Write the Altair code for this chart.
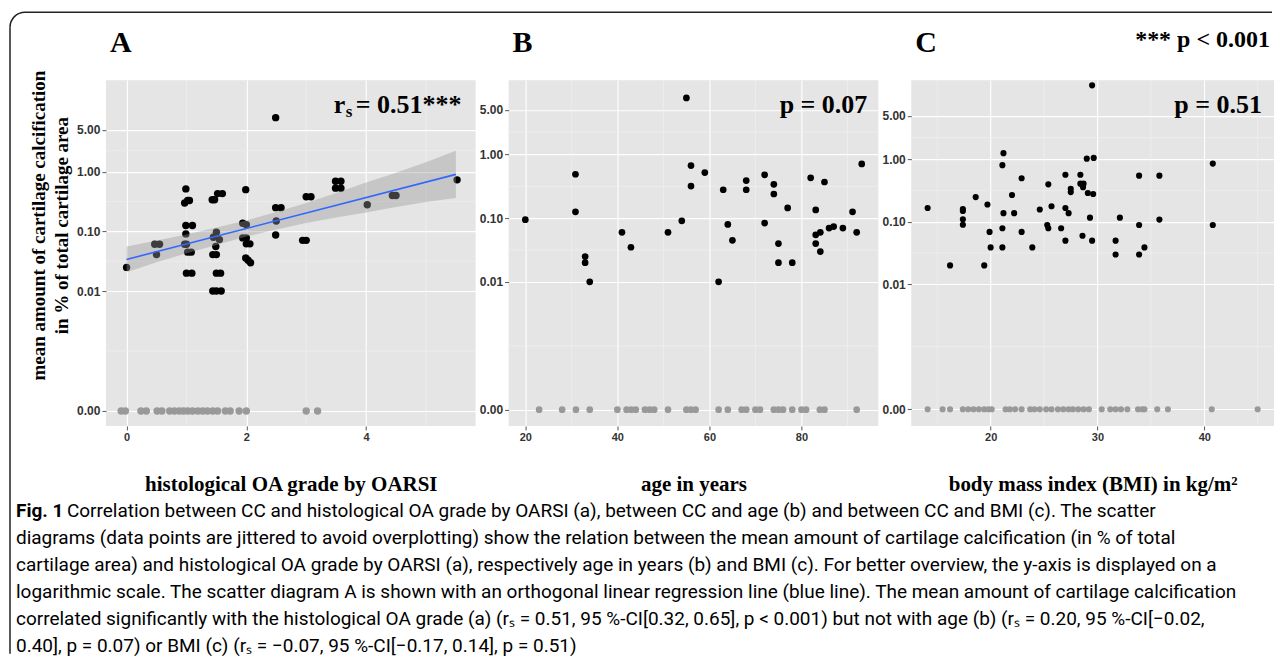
import altair as alt
import pandas as pd

# ---------------- data ----------------
Y_TICKS = [0, 0.01, 0.1, 1, 5]
Y_MINOR = [0.0009, 0.0317, 0.316, 2.24]

# Panel A: histological OA grade (OARSI)
A_X = [0.0, 0.47, 0.55, 0.50, 0.99, 0.97, 1.02, 1.05, 0.99, 1.10, 0.99, 0.97, 1.00,
       1.02, 1.08, 1.00, 1.09, 1.43, 1.47, 1.52, 1.60, 1.50, 1.45, 1.55, 1.49, 1.44,
       1.50, 1.50, 1.57, 1.44, 1.50, 1.58, 1.99, 1.94, 2.00, 1.94, 2.00, 2.00, 2.06,
       1.99, 2.03, 2.07, 2.49, 2.49, 2.58, 2.50, 2.49, 2.94, 3.00, 3.00, 3.08, 3.49,
       3.58, 3.49, 3.58, 4.02, 4.44, 4.50, 5.52]
A_Y = [0.025, 0.061, 0.061, 0.041, 0.515, 0.30, 0.33, 0.33, 0.126, 0.126, 0.091, 0.061,
       0.061, 0.045, 0.045, 0.020, 0.020, 0.34, 0.34, 0.43, 0.43, 0.097, 0.080, 0.073,
       0.056, 0.041, 0.041, 0.020, 0.020, 0.010, 0.010, 0.010, 0.50, 0.137, 0.130, 0.078,
       0.078, 0.062, 0.062, 0.036, 0.033, 0.030, 8.0, 0.25, 0.25, 0.15, 0.087, 0.071,
       0.071, 0.38, 0.38, 0.69, 0.69, 0.53, 0.53, 0.28, 0.40, 0.40, 0.73]
A_ZERO_X = [-0.09, -0.02, 0.24, 0.33, 0.51, 0.59, 0.72, 0.80, 0.88, 0.95, 1.02, 1.10,
            1.19, 1.27, 1.35, 1.44, 1.52, 1.65, 1.73, 1.88, 2.00, 3.00, 3.19]
FIT_X = [0.0, 5.5]
FIT_Y = [0.034, 0.90]
BAND_X = [0, 0.5, 1, 1.5, 2, 2.5, 3, 3.5, 4, 4.5, 5, 5.5]
BAND_LO = [0.0207, 0.0304, 0.043, 0.0596, 0.0825, 0.108, 0.1386, 0.1711, 0.2073, 0.256, 0.31, 0.3617]
BAND_HI = [0.0562, 0.0708, 0.0891, 0.1166, 0.1526, 0.2113, 0.2985, 0.4384, 0.6557, 0.9623, 1.44, 2.24]

# Panel B: age in years
B_X = [20, 30.9, 30.9, 33.0, 33.0, 34.0, 41.0, 42.95, 51.0, 54.0, 55.0, 56.0, 56.0, 59.0,
       62.0, 63.0, 64.0, 65.0, 68.0, 68.0, 72.0, 72.0, 74.0, 74.0, 75.0, 75.0, 77.0, 78.0,
       82.0, 83.1, 83.1, 83.1, 84.1, 84.1, 85.0, 86.0, 87.0, 89.0, 91.1, 92.0, 93.1]
B_Y = [0.095, 0.49, 0.126, 0.025, 0.020, 0.010, 0.060, 0.035, 0.060, 0.091, 7.7, 0.67,
       0.32, 0.52, 0.010, 0.28, 0.080, 0.045, 0.39, 0.28, 0.48, 0.084, 0.34, 0.24, 0.040,
       0.020, 0.145, 0.020, 0.43, 0.135, 0.055, 0.040, 0.060, 0.030, 0.37, 0.070, 0.074,
       0.070, 0.126, 0.060, 0.71]
B_ZERO_X = [23, 28, 31, 34, 40, 42, 43, 44, 46, 47, 48, 51, 55, 56, 57, 62, 64, 67, 68,
            70, 71, 74, 75, 76, 78, 80, 81, 84, 85, 92]

# Panel C: BMI
C_X = [14.1, 16.2, 17.4, 17.4, 17.4, 17.4, 18.6, 19.7, 19.4, 19.9, 20.0, 21.2, 21.1, 21.2,
       21.1, 21.1, 22.0, 22.2, 22.9, 22.9, 23.9, 24.6, 25.4, 25.3, 25.4, 25.7, 26.6, 27.0,
       27.0, 27.3, 27.0, 27.5, 27.5, 28.4, 28.4, 28.7, 28.65, 28.6, 29.0, 29.65, 29.1, 29.6,
       29.3, 29.5, 29.5, 31.7, 31.7, 32.1, 33.9, 33.9, 33.9, 34.4, 35.8, 35.8, 40.8, 40.8]
C_Y = [0.167, 0.020, 0.16, 0.15, 0.11, 0.09, 0.25, 0.19, 0.020, 0.069, 0.039, 1.26, 0.81,
       0.138, 0.079, 0.039, 0.27, 0.138, 0.50, 0.069, 0.039, 0.158, 0.40, 0.089, 0.079,
       0.178, 0.079, 0.57, 0.167, 0.138, 0.050, 0.34, 0.30, 0.57, 0.41, 0.41, 0.36, 0.060,
       1.03, 1.06, 0.29, 0.28, 0.117, 0.050, 15.4, 0.050, 0.030, 0.117, 0.55, 0.089, 0.030,
       0.039, 0.55, 0.109, 0.86, 0.089]
C_ZERO_X = [14.1, 15.5, 16.2, 17.4, 17.9, 18.4, 18.9, 19.4, 19.8, 20.1, 21.4, 21.8, 22.3,
            22.9, 23.7, 24.1, 24.6, 25.2, 25.7, 26.3, 26.8, 27.3, 27.7, 28.2, 28.7, 29.2,
            30.4, 31.2, 31.7, 32.2, 32.8, 33.8, 34.2, 34.4, 35.6, 36.6, 40.7, 45.0]

Y_TITLE = ["mean amount of cartilage calcification", "in % of total cartilage area"]
CAPTION_REST1 = ("Correlation between CC and histological OA grade by OARSI (a), between CC "
                 "and age (b) and between CC and BMI (c). The scatter")
CAPTION = [
    "diagrams (data points are jittered to avoid overplotting) show the relation between the mean amount of cartilage calcification (in % of total",
    "cartilage area) and histological OA grade by OARSI (a), respectively age in years (b) and BMI (c). For better overview, the y-axis is displayed on a",
    "logarithmic scale. The scatter diagram A is shown with an orthogonal linear regression line (blue line). The mean amount of cartilage calcification",
    "correlated significantly with the histological OA grade (a) (r\u209b = 0.51, 95 %-CI[0.32, 0.65], p < 0.001) but not with age (b) (r\u209b = 0.20, 95 %-CI[\u22120.02,",
    "0.40], p = 0.07) or BMI (c) (r\u209b = \u22120.07, 95 %-CI[\u22120.17, 0.14], p = 0.51)",
]

# ---------------- helpers ----------------
SERIF = "Liberation Serif"
SANS = "Liberation Sans"
CAPFONT = "Roboto"
ONE = pd.DataFrame({"k": [0]})
H = 346

AX = dict(labelFont=SANS, labelFontWeight="bold", labelColor="#333333",
          tickColor="#555555", tickSize=4, tickWidth=1, domain=False, grid=True,
          gridColor="white", gridWidth=1.1, labelPadding=2, labelFlush=False,
          titleFont=SERIF, titleFontWeight="bold", titleColor="black")


def txt(s, x, y, size, align="left", font=SERIF, weight="bold"):
    return alt.Chart(ONE).mark_text(text=s, font=font, fontSize=size, fontWeight=weight,
                                    align=align, baseline="alphabetic", color="black"
                                    ).encode(x=alt.value(x), y=alt.value(y))


def panel(px, py, zx, xdom, ydom, xt, xm, w, size, xtitle, ytitle_props, band, extra):
    xs = alt.Scale(domain=xdom, nice=False, zero=False)
    ys = alt.Scale(type="symlog", constant=0.0001, domain=ydom, nice=False, zero=False)
    xax = alt.Axis(values=xt, format="d", title=xtitle, titleY=65, titleFontSize=21,
                   titleBaseline="alphabetic", labelFontSize=11, **AX)
    yax = alt.Axis(values=Y_TICKS, format=".2f", labelFontSize=12, **ytitle_props, **AX)
    X = alt.X("x:Q", scale=xs, axis=xax)
    Y = alt.Y("y:Q", scale=ys, axis=yax)
    layers = [
        alt.Chart(pd.DataFrame({"x": xm})).mark_rule(color="#F2F2F2", strokeWidth=0.6).encode(x=X),
        alt.Chart(pd.DataFrame({"y": Y_MINOR})).mark_rule(color="#F2F2F2", strokeWidth=0.6).encode(y=Y),
        alt.Chart(pd.DataFrame({"x": zx, "y": [0.0] * len(zx)})).mark_circle(
            size=size, color="#999999", opacity=1).encode(x=X, y=Y),
        alt.Chart(pd.DataFrame({"x": px, "y": py})).mark_circle(
            size=size, color="black", opacity=1).encode(x=X, y=Y),
    ]
    if band:
        layers.append(alt.Chart(pd.DataFrame({"x": BAND_X, "y": BAND_LO, "hi": BAND_HI}))
                      .mark_area(color="#999999", opacity=0.4)
                      .encode(x=X, y=Y, y2=alt.Y2("hi:Q")))
        layers.append(alt.Chart(pd.DataFrame({"x": FIT_X, "y": FIT_Y}))
                      .mark_line(color="#3366FF", strokeWidth=1.6).encode(x=X, y=Y))
    layers += extra
    return alt.layer(*layers).properties(width=w, height=H)


# ---- decorations for panel A (border, caption, labels) ----
BORDER = "#222222"
decoA = [
    txt("A", 4, -28, 30),
    txt("r", 228, 33, 26),
    txt("s", 240, 37, 17),
    txt("= 0.51***", 250, 33, 26),
    alt.Chart(ONE).mark_rule(color=BORDER, strokeWidth=1.5).encode(
        x=alt.value(-81), x2=alt.value(1167), y=alt.value(-68)),
    alt.Chart(ONE).mark_rule(color=BORDER, strokeWidth=1.5).encode(
        x=alt.value(-96), y=alt.value(-53), y2=alt.value(574)),
    alt.Chart(ONE).mark_arc(color=BORDER, radius=15.75, radius2=14.25, theta=4.7124,
                            theta2=6.2832).encode(x=alt.value(-81), y=alt.value(-53)),
    txt("Fig. 1", -90, 437, 19, font=CAPFONT, weight="bold"),
    txt(CAPTION_REST1, -39, 437, 19, font=CAPFONT, weight="normal"),
]
for i, line in enumerate(CAPTION):
    decoA.append(txt(line, -90, 464 + 27 * i, 19, font=CAPFONT, weight="normal"))

pA = panel(A_X, A_Y, A_ZERO_X, [-0.345, 5.83], [-0.000078, 33.8], [0, 2, 4], [1, 3, 5],
           370, 55, "histological OA grade by OARSI",
           dict(title=Y_TITLE, titleX=-67, titleY=145, titleAngle=270, titleAlign="center",
                titleBaseline="middle", titleLineHeight=23, titleFontSize=19),
           True, decoA)

pB = panel(B_X, B_Y, B_ZERO_X, [16.37, 96.7], [-0.00008, 14.6], [20, 40, 60, 80],
           [30, 50, 70, 90], 370, 45, "age in years", dict(title=""), False,
           [txt("B", 4, -28, 30), txt("p = 0.07", 359, 33, 26, align="right")])

pC = panel(C_X, C_Y, C_ZERO_X, [12.57, 46.53], [-0.000085, 18.6], [20, 30, 40],
           [15, 25, 35, 45], 363, 38, "body mass index (BMI) in kg/m\u00b2", dict(title=""),
           False,
           [txt("C", 4, -28, 30), txt("p = 0.51", 351, 33, 26, align="right"),
            txt("*** p < 0.001", 359, -33, 24, align="right")])

chart = (alt.hconcat(pA, pB, pC, spacing=33, bounds="flush")
         .properties(padding={"left": 1, "top": 3, "right": 0, "bottom": 0}, background="white")
         .configure_view(fill="#E5E5E5", strokeWidth=0))

chart.save("out.html", embed_options={"renderer": "svg", "actions": False})
